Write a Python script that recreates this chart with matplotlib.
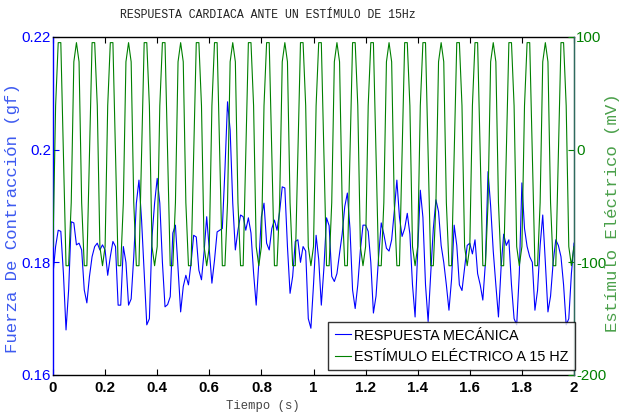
import numpy as np
import matplotlib
matplotlib.use("Agg")
import matplotlib.pyplot as plt
from matplotlib import font_manager as fm

# Sampling: 100 samples per second over 2 s
sample_rate = 100
n_samples = 201
time_s = np.arange(n_samples) / sample_rate

# Contraction force (gf)
force_gf = [
    0.1780, 0.1828, 0.1857, 0.1855, 0.1780, 0.1680, 0.1751, 0.1872, 0.1870, 0.1831,
    0.1834, 0.1822, 0.1751, 0.1728, 0.1775, 0.1810, 0.1828, 0.1834, 0.1822, 0.1831,
    0.1822, 0.1777, 0.1810, 0.1837, 0.1828, 0.1724, 0.1724, 0.1828, 0.1800, 0.1724,
    0.1735, 0.1810, 0.1905, 0.1946, 0.1875, 0.1780, 0.1689, 0.1700, 0.1845, 0.1905,
    0.1949, 0.1905, 0.1800, 0.1721, 0.1725, 0.1739, 0.1852, 0.1866, 0.1790, 0.1712,
    0.1757, 0.1777, 0.1760, 0.1799, 0.1848, 0.1845, 0.1786, 0.1769, 0.1819, 0.1881,
    0.1822, 0.1763, 0.1804, 0.1854, 0.1857, 0.1860, 0.1964, 0.2085, 0.2035, 0.1905,
    0.1822, 0.1857, 0.1884, 0.1881, 0.1857, 0.1879, 0.1852, 0.1781, 0.1724, 0.1799,
    0.1881, 0.1905, 0.1834, 0.1822, 0.1860, 0.1875, 0.1857, 0.1890, 0.1934, 0.1932,
    0.1828, 0.1745, 0.1775, 0.1837, 0.1840, 0.1800, 0.1828, 0.1820, 0.1700, 0.1683,
    0.1760, 0.1848, 0.1805, 0.1724, 0.1790, 0.1879, 0.1865, 0.1775, 0.1766, 0.1780,
    0.1816, 0.1850, 0.1899, 0.1923, 0.1860, 0.1751, 0.1718, 0.1760, 0.1822, 0.1866,
    0.1866, 0.1855, 0.1800, 0.1710, 0.1740, 0.1810, 0.1870, 0.1850, 0.1825, 0.1820,
    0.1840, 0.1890, 0.1946, 0.1880, 0.1846, 0.1860, 0.1887, 0.1850, 0.1760, 0.1703,
    0.1820, 0.1928, 0.1880, 0.1760, 0.1695, 0.1780, 0.1860, 0.1911, 0.1890, 0.1830,
    0.1800, 0.1760, 0.1715, 0.1770, 0.1866, 0.1830, 0.1760, 0.1750, 0.1790, 0.1830,
    0.1834, 0.1815, 0.1840, 0.1780, 0.1760, 0.1733, 0.1800, 0.1961, 0.1900, 0.1820,
    0.1760, 0.1703, 0.1790, 0.1850, 0.1830, 0.1840, 0.1760, 0.1700, 0.1689, 0.1780,
    0.1941, 0.1860, 0.1828, 0.1810, 0.1800, 0.1715, 0.1750, 0.1830, 0.1884, 0.1800,
    0.1712, 0.1740, 0.1800, 0.1840, 0.1830, 0.1810, 0.1760, 0.1689, 0.1700, 0.1780,
    0.1834,
]

# Electrical stimulus (mV), 15 Hz
stimulus_mv = [
    -86, 39, 95, 95, -4, -103, -103, -47, 78, 95, 78, -47, -103, -103, -4, 95, 95, 39, -86, -103,
    -86, 39, 95, 95, -4, -103, -103, -47, 78, 95, 78, -47, -103, -103, -4, 95, 95, 39, -86, -103,
    -86, 39, 95, 95, -4, -103, -103, -47, 78, 95, 78, -47, -103, -103, -4, 95, 95, 39, -86, -103,
    -86, 39, 95, 95, -4, -103, -103, -47, 78, 95, 78, -47, -103, -103, -4, 95, 95, 39, -86, -103,
    -86, 39, 95, 95, -4, -103, -103, -47, 78, 95, 78, -47, -103, -103, -4, 95, 95, 39, -86, -103,
    -86, 39, 95, 95, -4, -103, -103, -47, 78, 95, 78, -47, -103, -103, -4, 95, 95, 39, -86, -103,
    -86, 39, 95, 95, -4, -103, -103, -47, 78, 95, 78, -47, -103, -103, -4, 95, 95, 39, -86, -103,
    -86, 39, 95, 95, -4, -103, -103, -47, 78, 95, 78, -47, -103, -103, -4, 95, 95, 39, -86, -103,
    -86, 39, 95, 95, -4, -103, -103, -47, 78, 95, 78, -47, -103, -103, -4, 95, 95, 39, -86, -103,
    -86, 39, 95, 95, -4, -103, -103, -47, 78, 95, 78, -47, -103, -103, -4, 95, 95, 39, -86, -103,
    -86,
]

x_ticks = [0, 0.2, 0.4, 0.6, 0.8, 1.0, 1.2, 1.4, 1.6, 1.8, 2.0]
x_tick_labels = ["0", "0.2", "0.4", "0.6", "0.8", "1", "1.2", "1.4", "1.6", "1.8", "2"]
force_ticks = [0.16, 0.18, 0.20, 0.22]
force_tick_labels = ["0.16", "0.18", "0.2", "0.22"]
stim_ticks = [-200, -100, 0, 100]
stim_tick_labels = ["-200", "-100", "0", "100"]

title_text = "RESPUESTA CARDIACA ANTE UN ESTÍMULO DE 15Hz"
xlabel_text = "Tiempo (s)"
left_label_text = "Fuerza De Contracción (gf)"
right_label_text = "Estímulo Eléctrico (mV)"
legend_labels = ["RESPUESTA MECÁNICA", "ESTÍMULO ELÉCTRICO A 15 HZ"]


def pick_font(*names):
    available = {f.name for f in fm.fontManager.ttflist}
    for name in names:
        if name in available:
            return name
    return "DejaVu Sans"


SANS = pick_font("Liberation Sans Narrow", "Arial Narrow", "Liberation Sans")
MONO = pick_font("Liberation Mono", "Courier New", "DejaVu Sans Mono")

BLUE = "#0000ff"
GREEN = "#008000"
TICK_SIZE = 10.8

W, H = 621, 416
fig = plt.figure(figsize=(W / 100, H / 100), dpi=100)
fig.patch.set_facecolor("white")

left, right, top, bottom = 53, 574, 37, 375
ax1 = fig.add_axes([left / W, 1 - bottom / H, (right - left) / W, (bottom - top) / H])
ax1.plot(time_s, force_gf, color=BLUE, lw=0.8)
ax1.set_xlim(0, 2)
ax1.set_ylim(0.16, 0.22)
ax1.set_xticks(x_ticks)
ax1.set_xticklabels(x_tick_labels, fontfamily=SANS, fontsize=TICK_SIZE, fontweight="bold")
ax1.set_yticks(force_ticks)
ax1.set_yticklabels(force_tick_labels, fontfamily=SANS, fontsize=TICK_SIZE)
ax1.tick_params(axis="x", direction="in", top=True, length=4, width=0.8, pad=4.5,
                colors="black")
ax1.tick_params(axis="y", direction="in", length=4, width=0.8, pad=1.5,
                colors=BLUE, labelcolor=BLUE)
ax1.spines["left"].set_color(BLUE)
for s in ("top", "bottom"):
    ax1.spines[s].set_color("black")
    ax1.spines[s].set_linewidth(1.0)
ax1.spines["left"].set_linewidth(1.0)

ax2 = ax1.twinx()
ax2.plot(time_s, stimulus_mv, color=GREEN, lw=0.8)
ax2.set_ylim(-200, 100)
ax2.set_yticks(stim_ticks)
ax2.set_yticklabels(stim_tick_labels, fontfamily=SANS, fontsize=TICK_SIZE)
ax2.tick_params(axis="y", direction="in", length=4, width=0.8, pad=1.5,
                colors=GREEN, labelcolor=GREEN)
ax2.spines["right"].set_color("#2e6b5e")
ax2.spines["right"].set_linewidth(1.0)
for s in ("left", "top", "bottom"):
    ax2.spines[s].set_visible(False)

fig.text(268 / W, 1 - 15 / H, title_text, fontfamily=MONO, fontsize=8.3,
         color="#222222", ha="center", va="center")
fig.text(263 / W, 1 - 406 / H, xlabel_text, fontfamily=MONO, fontsize=8.8,
         color="#444444", ha="center", va="center")
fig.text(13 / W, 1 - 218 / H, left_label_text, fontfamily=MONO, fontsize=12.5,
         color="#3d5af0", rotation=90, ha="center", va="center")
fig.text(612 / W, 1 - 213 / H, right_label_text, fontfamily=MONO, fontsize=12.5,
         color="#4aa04a", rotation=90, ha="center", va="center")

handles = [ax1.lines[0], ax2.lines[0]]
leg = ax2.legend(handles, legend_labels, loc="upper left",
                 bbox_to_anchor=(328 / W, 1 - 322 / H), bbox_transform=fig.transFigure,
                 prop={"family": SANS, "size": 10.4}, frameon=True, fancybox=False,
                 borderpad=0.45, labelspacing=0.5, handlelength=1.15, handletextpad=0.2,
                 borderaxespad=0)
leg.get_frame().set_edgecolor("black")
leg.get_frame().set_linewidth(1.0)

fig.savefig("out.png", dpi=100)
